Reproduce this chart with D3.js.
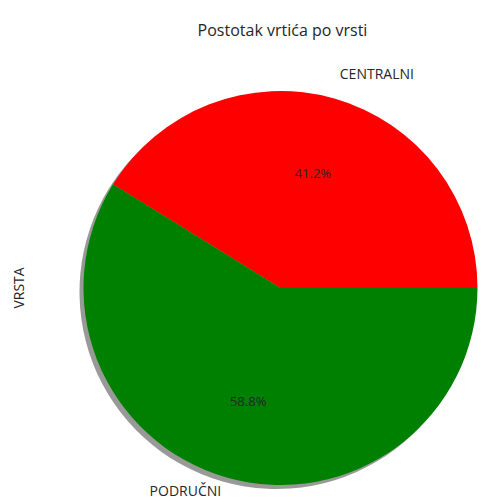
<!DOCTYPE html>
<html>
<head>
<meta charset="utf-8">
<script src="https://cdn.jsdelivr.net/npm/d3@7"></script>
<style>
  body { margin: 0; background: #fff; }
  text { font-family: "Open Sans", "DejaVu Sans", sans-serif; fill: #262626; }
</style>
</head>
<body>
<svg id="chart" width="481" height="504"></svg>
<script>
// data for the pie
var categories = ["CENTRALNI", "PODRUČNI"];
var counts = [7, 10];
var sliceColors = ["#ff0000", "#008000"];

var svgWidth = 481, svgHeight = 504;
var cx = 280.5, cy = 288, radius = 197;

var svg = d3.select("#chart");

var rows = categories.map(function(c, i) {
  return { name: c, value: counts[i], color: sliceColors[i] };
});

// matplotlib starts at 3 o'clock and goes counter-clockwise
var pie = d3.pie()
  .sort(null)
  .value(function(d) { return d.value; })
  .startAngle(Math.PI / 2)
  .endAngle(Math.PI / 2 - 2 * Math.PI);

var arcs = pie(rows);
var total = d3.sum(counts);

var arc = d3.arc().innerRadius(0).outerRadius(radius);

// shadow
svg.append("g")
  .attr("transform", "translate(" + (cx - 4) + "," + (cy + 4) + ")")
  .selectAll("path")
  .data(arcs)
  .enter().append("path")
  .attr("d", arc)
  .attr("fill", "#000")
  .attr("fill-opacity", 0.4);

var g = svg.append("g")
  .attr("transform", "translate(" + cx + "," + cy + ")");

g.selectAll("path.slice")
  .data(arcs)
  .enter().append("path")
  .attr("class", "slice")
  .attr("d", arc)
  .attr("fill", function(d) { return d.data.color; });

function midPos(d, k) {
  var a = (d.startAngle + d.endAngle) / 2; // d3 angle, 0 at 12 o'clock, clockwise
  return [Math.sin(a) * radius * k, -Math.cos(a) * radius * k];
}

// percentage labels
g.selectAll("text.pct")
  .data(arcs)
  .enter().append("text")
  .attr("class", "pct")
  .attr("x", function(d) { return midPos(d, 0.6)[0]; })
  .attr("y", function(d) { return midPos(d, 0.6)[1] - 1; })
  .attr("text-anchor", "middle")
  .attr("dominant-baseline", "central")
  .style("font-size", "13px")
  .text(function(d) { return (d.data.value / total * 100).toFixed(1) + "%"; });

// category labels
g.selectAll("text.cat")
  .data(arcs)
  .enter().append("text")
  .attr("class", "cat")
  .attr("x", function(d) { return midPos(d, 1.1)[0]; })
  .attr("y", function(d) { return midPos(d, 1.1)[1] - 6; })
  .attr("text-anchor", function(d) { return midPos(d, 1)[0] > 0 ? "start" : "end"; })
  .attr("dominant-baseline", "central")
  .style("font-size", "14px")
  .text(function(d) { return d.data.name; });

// title
svg.append("text")
  .attr("x", cx + 2)
  .attr("y", 30)
  .attr("text-anchor", "middle")
  .attr("dominant-baseline", "central")
  .style("font-size", "16px")
  .text("Postotak vrtića po vrsti");

// y label
svg.append("text")
  .attr("transform", "translate(18," + cy + ") rotate(-90)")
  .attr("text-anchor", "middle")
  .attr("dominant-baseline", "central")
  .style("font-size", "14px")
  .text("VRSTA");
</script>
</body>
</html>
